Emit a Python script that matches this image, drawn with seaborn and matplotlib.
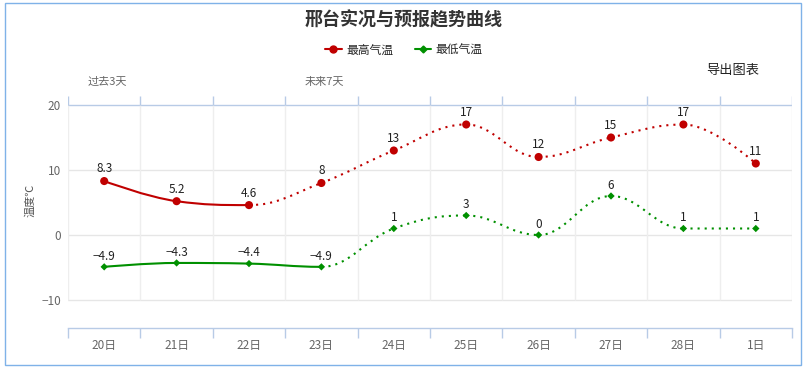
import numpy as np
import pandas as pd
import matplotlib
matplotlib.use("Agg")
import matplotlib.pyplot as plt
import seaborn as sns
from matplotlib.path import Path
from matplotlib.patches import PathPatch, Rectangle
from matplotlib.lines import Line2D

sns.set_theme(style="white")
plt.rcParams['font.family'] = ['Noto Sans CJK SC', 'DejaVu Sans']
plt.rcParams['axes.unicode_minus'] = True

days = ["20日", "21日", "22日", "23日", "24日", "25日", "26日", "27日", "28日", "1日"]
tmax = [8.3, 5.2, 4.6, 8, 13, 17, 12, 15, 17, 11]
tmin = [-4.9, -4.3, -4.4, -4.9, 1, 3, 0, 6, 1, 1]
tmax_obs_last = 2   # solid up to this index
tmin_obs_last = 3
yticks = [-10, 0, 10, 20]
title = "邢台实况与预报趋势曲线"
band_labels = ["过去3天", "未来7天"]

RED = "#c00000"
GREEN = "#009000"
BLUE = "#b8cbe6"
GRID = "#e6e6e6"

W, H = 808, 368
fig = plt.figure(figsize=(W / 100, H / 100), dpi=100)
ax = fig.add_axes([68 / W, (H - 328) / H, (792 - 68) / W, (328 - 96) / H])

x = np.arange(len(days), dtype=float)
ylo, yhi = -10 - 28 / 6.5, 20 + 9 / 6.5
ax.set_xlim(-0.5, len(days) - 0.5)
ax.set_ylim(ylo, yhi)


def spline_segments(xs, ys, smoothing=1.5):
    n = len(xs)
    lc = [(xs[i], ys[i]) for i in range(n)]
    rc = [(xs[i], ys[i]) for i in range(n)]
    d = smoothing + 1
    for i in range(1, n - 1):
        px, py = xs[i], ys[i]
        lx, ly = xs[i - 1], ys[i - 1]
        nx, ny = xs[i + 1], ys[i + 1]
        lcx = (smoothing * px + lx) / d
        lcy = (smoothing * py + ly) / d
        rcx = (smoothing * px + nx) / d
        rcy = (smoothing * py + ny) / d
        if rcx != lcx:
            corr = ((rcy - lcy) * (rcx - px)) / (rcx - lcx) + py - rcy
            lcy += corr
            rcy += corr
        if lcy > ly and lcy > py:
            lcy = max(ly, py); rcy = 2 * py - lcy
        elif lcy < ly and lcy < py:
            lcy = min(ly, py); rcy = 2 * py - lcy
        if rcy > ny and rcy > py:
            rcy = max(ny, py); lcy = 2 * py - rcy
        elif rcy < ny and rcy < py:
            rcy = min(ny, py); lcy = 2 * py - rcy
        lc[i] = (lcx, lcy)
        rc[i] = (rcx, rcy)
    segs = []
    for i in range(1, n):
        segs.append([(xs[i - 1], ys[i - 1]), rc[i - 1], lc[i], (xs[i], ys[i])])
    return segs


def draw_series(ys, color, split):
    segs = spline_segments(list(x), list(ys))
    solid = [s for i, s in enumerate(segs) if i < split]
    dotted = [s for i, s in enumerate(segs) if i >= split]
    for group, ls in ((solid, "-"), (dotted, (0, (1, 2.4)))):
        if not group:
            continue
        verts, codes = [], []
        for s in group:
            verts += s
            codes += [Path.MOVETO, Path.CURVE4, Path.CURVE4, Path.CURVE4]
        p = PathPatch(Path(verts, codes), facecolor="none", edgecolor=color,
                      lw=1.5, linestyle=ls, zorder=3)
        ax.add_patch(p)


draw_series(tmax, RED, tmax_obs_last)
draw_series(tmin, GREEN, tmin_obs_last)

df = pd.DataFrame({"x": x, "max": tmax, "min": tmin})
sns.scatterplot(data=df, x="x", y="max", ax=ax, color=RED, marker="o", s=34,
                edgecolor="none", zorder=4, legend=False)
sns.scatterplot(data=df, x="x", y="min", ax=ax, color=GREEN, marker="D", s=14,
                edgecolor="none", zorder=4, legend=False)


def fmt(v):
    s = f"{v:g}"
    return s.replace("-", "\u2212")


for xi, v in zip(x, tmax):
    ax.annotate(fmt(v), (xi, v), xytext=(0, 4), textcoords="offset points",
                ha="center", va="bottom", fontsize=8.5, color="#222222", zorder=5)
for xi, v in zip(x, tmin):
    ax.annotate(fmt(v), (xi, v), xytext=(0, 3), textcoords="offset points",
                ha="center", va="bottom", fontsize=8.5, color="#222222", zorder=5)

# grid
for yv in yticks:
    ax.axhline(yv, color=BLUE if yv == 20 else GRID, lw=1, zorder=1)
bounds = np.arange(-0.5, len(days), 1.0)
ax.vlines(bounds, -10, 20, color="#eeeeee", lw=1, zorder=1)
ax.vlines(bounds, 20, yhi, color=BLUE, lw=1, zorder=1)

for sp in ["top", "left", "right"]:
    ax.spines[sp].set_visible(False)
ax.spines["bottom"].set_color(BLUE)
ax.spines["bottom"].set_linewidth(1)

ax.set_xticks(bounds)
ax.set_xticklabels([])
ax.tick_params(axis="x", which="major", direction="out", length=7.5, width=1,
               color=BLUE, bottom=True)
ax.set_xticks(x, minor=True)
ax.set_xticklabels(days, minor=True)
ax.tick_params(axis="x", which="minor", length=0, pad=8, labelsize=8.5,
               labelcolor="#666666")

ax.set_yticks(yticks)
ax.set_yticklabels([fmt(v) for v in yticks])
ax.tick_params(axis="y", length=0, pad=5, labelsize=8.5, labelcolor="#666666")
ax.set_xlabel("")
ax.set_ylabel("")

# texts
fig.text(404 / W, 1 - 20 / H, title, ha="center", va="center", fontsize=13,
         fontweight="bold", color="#333333")
fig.text(30 / W, 1 - 200 / H, "温度℃", rotation=90, ha="center", va="center",
         fontsize=8, color="#555555")
fig.text(88 / W, 1 - 82 / H, band_labels[0], ha="left", va="center",
         fontsize=8, color="#666666")
fig.text(305 / W, 1 - 82 / H, band_labels[1], ha="left", va="center",
         fontsize=8, color="#666666")
fig.text(733 / W, 1 - 70 / H, "导出图表", ha="center", va="center",
         fontsize=9.5, color="#222222")

handles = [Line2D([], [], color=RED, lw=1.5, marker="o", markersize=5),
           Line2D([], [], color=GREEN, lw=1.5, marker="D", markersize=3.5)]
fig.legend(handles, ["最高气温", "最低气温"], loc="center",
           bbox_to_anchor=(404 / W, 1 - 50 / H), ncol=2, frameon=False,
           fontsize=8.5, handlelength=1.4, handletextpad=0.4, columnspacing=1.8)

fig.patches.append(Rectangle((5 / W, 3 / H), 796 / W, 362 / H,
                             transform=fig.transFigure, fill=False,
                             edgecolor="#7fb2e8", lw=1))

fig.savefig("out.png", dpi=100)
